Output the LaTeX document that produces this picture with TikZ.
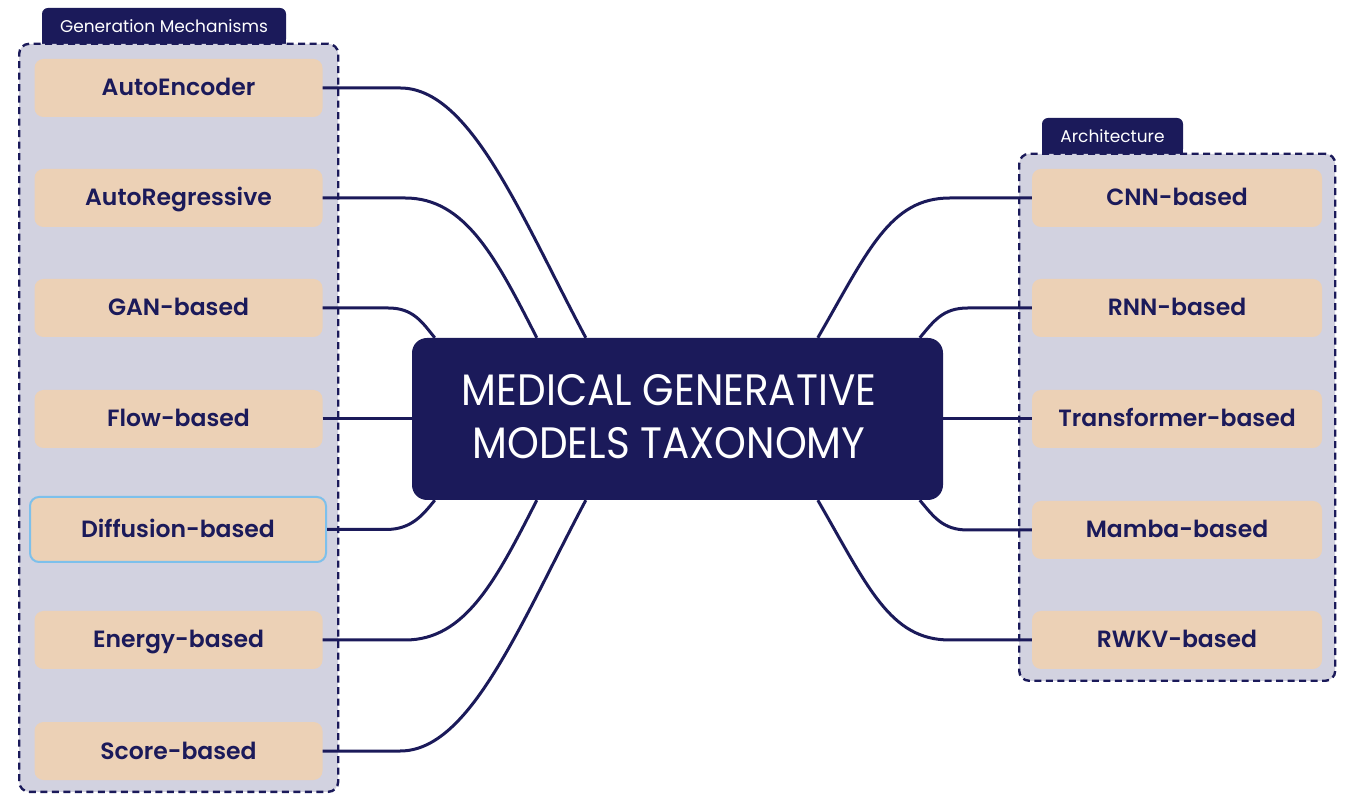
\documentclass[tikz,border=0pt]{standalone}
\usepackage{fontspec}
\setmainfont{Poppins}
\newfontfamily\labelfont{Poppins SemiBold}
\usetikzlibrary{calc}

\definecolor{navy}{RGB}{27,26,90}
\definecolor{panelgray}{RGB}{210,210,224}
\definecolor{peach}{RGB}{236,209,182}
\definecolor{sky}{RGB}{125,192,235}

\tikzset{
  group/.style={draw=navy, fill=panelgray, line width=2.4pt,
    dash pattern=on 7pt off 4.5pt, rounded corners=10pt,
    anchor=south west, inner sep=0pt},
  tab/.style={fill=navy, rounded corners=6pt, text=white, inner sep=0pt,
    font=\fontsize{17}{20}\selectfont, text height=12pt, text depth=0pt},
  item/.style={fill=peach, rounded corners=9pt, inner sep=0pt,
    minimum height=58pt, text=navy,
    font=\labelfont\fontsize{23.5}{26}\selectfont, text height=16pt, text depth=0pt},
  leftitem/.style={item, minimum width=288pt},
  rightitem/.style={item, minimum width=290pt},
  hubbox/.style={fill=navy, rounded corners=15pt, minimum width=531pt,
    minimum height=162pt, inner sep=0pt},
  conn/.style={draw=navy, line width=3pt},
}

\begin{document}
\begin{tikzpicture}[x=1pt,y=1pt]
  \useasboundingbox (0,0) rectangle (1359,811);

  % tabs sit behind the dashed panels
  \node[tab, minimum width=244pt, minimum height=37pt] (gtab) at (164,784.5) {Generation Mechanisms};
  \fill[navy] (gtab.south west) rectangle ([yshift=8pt]gtab.south east);
  \node[tab, minimum width=141pt, minimum height=37pt] (atab) at (1112.5,674.5) {Architecture};
  \fill[navy] (atab.south west) rectangle ([yshift=8pt]atab.south east);

  % dashed panels
  \node[group, minimum width=319pt, minimum height=748pt] (gpanel) at (18,18) {};
  \node[group, minimum width=316pt, minimum height=527pt] (apanel) at (1018,129) {};

  % central box
  \node[hubbox] (hub) at (677.5,392) {};
  \node[text=white, inner sep=0pt, font=\fontsize{44}{53}\selectfont] (title) at (669,389.5)
    {\scalebox{0.92}[1]{\begin{tabular}{@{}c@{}}MEDICAL GENERATIVE\\MODELS TAXONOMY\end{tabular}}};

  % generation mechanisms
  \node[leftitem] (ae)  at (178.5,723) {AutoEncoder};
  \node[leftitem] (ar)  at (178.5,613) {AutoRegressive};
  \node[leftitem] (gan) at (178.5,503) {GAN-based};
  \node[leftitem] (flow) at (178.5,392) {Flow-based};
  \node[item, minimum width=296pt, minimum height=65pt, draw=sky, line width=2pt] (diff) at (178,281.5) {Diffusion-based};
  \node[leftitem] (ebm) at (178.5,171) {Energy-based};
  \node[leftitem] (sbm) at (178.5,60) {Score-based};

  % architectures
  \node[rightitem] (cnn)  at (1177,613) {CNN-based};
  \node[rightitem] (rnn)  at (1177,503) {RNN-based};
  \node[rightitem] (trf)  at (1177,392) {Transformer-based};
  \node[rightitem] (mamba) at (1177,281) {Mamba-based};
  \node[rightitem] (rwkv) at (1177,171) {RWKV-based};

  % connectors, left side
  \draw[conn] (ae.east) -- ++(77.5,0) .. controls +(70,0) and +(118:140) .. ($(hub.north west)+(174,0)$);
  \draw[conn] (ar.east) -- ++(82.5,0) .. controls +(60,0) and +(117:90) .. ($(hub.north west)+(125,0)$);
  \draw[conn] (gan.east) -- ++(65.5,0) .. controls +(25,0) and +(129:20) .. ($(hub.north west)+(23,0)$);
  \draw[conn] (flow.east) -- (hub.west);
  \draw[conn] (diff.east) -- ++(59,0) .. controls +(25,0) and +(231:20) .. ($(hub.south west)+(23,0)$);
  \draw[conn] (ebm.east) -- ++(82.5,0) .. controls +(60,0) and +(243:90) .. ($(hub.south west)+(125,0)$);
  \draw[conn] (sbm.east) -- ++(77.5,0) .. controls +(70,0) and +(242:140) .. ($(hub.south west)+(174,0)$);

  % connectors, right side
  \draw[conn] (cnn.west) -- ++(-82,0) .. controls +(-60,0) and +(60:100) .. ($(hub.north west)+(406,0)$);
  \draw[conn] (rnn.west) -- ++(-64,0) .. controls +(-25,0) and +(50:22) .. ($(hub.north west)+(508,0)$);
  \draw[conn] (trf.west) -- (hub.east);
  \draw[conn] (mamba.west) -- ++(-64,0) .. controls +(-25,0) and +(-50:22) .. ($(hub.south west)+(508,0)$);
  \draw[conn] (rwkv.west) -- ++(-82,0) .. controls +(-60,0) and +(-60:100) .. ($(hub.south west)+(406,0)$);
\end{tikzpicture}
\end{document}
